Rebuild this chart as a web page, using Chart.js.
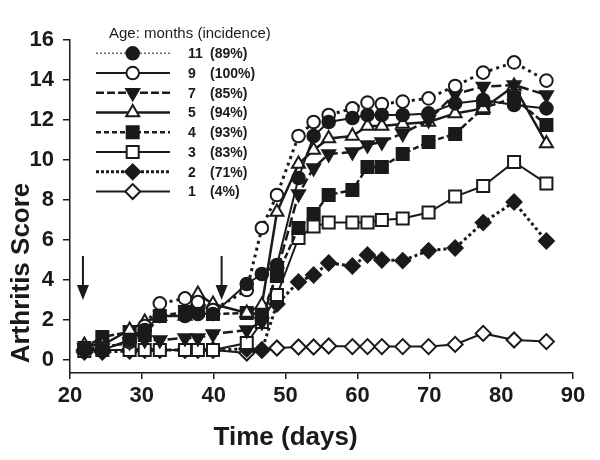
<!DOCTYPE html>
<html>
<head>
<meta charset="utf-8">
<title>Arthritis score by age</title>
<script src="https://cdn.jsdelivr.net/npm/chart.js@4.4.1/dist/chart.umd.min.js"></script>
<style>
  html, body { margin: 0; padding: 0; background: #fff; }
  #wrap { width: 600px; height: 460px; }
</style>
</head>
<body>
<div id="wrap"><canvas id="arthritisChart" width="600" height="460"></canvas></div>
<script>
// Days of scoring
const days = [22, 24.5, 28.3, 30.4, 32.5, 36, 37.8, 39.9, 44.6, 46.7, 48.8, 51.8, 53.9, 56, 59.3, 61.4, 63.4, 66.3, 69.9, 73.6, 77.5, 81.8, 86.3];

// Legend text
const ageMonths = ['11', '9', '7', '5', '4', '3', '2', '1'];
const incidence = ['(89%)', '(100%)', '(85%)', '(94%)', '(93%)', '(83%)', '(71%)', '(4%)'];

// Mean arthritis score per age group
const score11 = [0.5, 0.5, 1.0, 1.5, 2.2, 2.2, 2.3, 2.3, 3.8, 4.3, 4.75, 9.1, 11.2, 11.9, 12.1, 12.25, 12.25, 12.25, 12.33, 12.83, 13.0, 12.75, 12.58];
const score9  = [0.6, 0.6, 0.9, 1.7, 2.83, 3.08, 2.9, 2.5, 3.5, 6.6, 8.25, 11.2, 11.9, 12.25, 12.58, 12.87, 12.8, 12.92, 13.08, 13.7, 14.37, 14.88, 13.97];
const score7  = [0.6, 0.6, 0.9, 1.0, 1.0, 1.1, 1.1, 1.3, 1.5, 1.9, 4.4, 8.3, 9.6, 10.3, 10.4, 10.75, 10.9, 11.33, 12.0, 13.3, 13.67, 13.75, 13.25];
const score5  = [0.75, 0.75, 1.5, 1.9, 2.2, 2.2, 3.3, 2.8, 2.35, 2.75, 7.4, 9.8, 10.5, 11.08, 11.2, 11.7, 11.7, 11.8, 11.9, 12.33, 12.58, 13.7, 10.83];
const score4  = [0.6, 1.15, 1.4, 1.25, 2.2, 2.4, 2.5, 2.3, 2.35, 2.3, 4.2, 6.6, 7.3, 8.25, 8.5, 9.65, 9.65, 10.3, 10.9, 11.3, 12.6, 13.1, 11.75];
const score3  = [0.45, 0.5, 0.5, 0.5, 0.5, 0.5, 0.5, 0.5, 0.85, 1.9, 3.25, 6.1, 6.67, 6.87, 6.87, 6.87, 7.0, 7.08, 7.37, 8.17, 8.7, 9.9, 8.83];
const score2  = [0.4, 0.4, 0.45, 0.5, 0.5, 0.5, 0.5, 0.5, 0.55, 0.5, 2.8, 3.9, 4.25, 4.85, 4.7, 5.25, 5.0, 4.97, 5.47, 5.6, 6.87, 7.9, 5.95];
const score1  = [0.5, 0.5, 0.5, 0.5, 0.5, 0.5, 0.5, 0.5, 0.35, 0.5, 0.6, 0.65, 0.65, 0.7, 0.67, 0.67, 0.67, 0.67, 0.67, 0.78, 1.33, 1.0, 0.92];

// Axis ticks
const xTicks = [20, 30, 40, 50, 60, 70, 80, 90];
const yTicks = [0, 2, 4, 6, 8, 10, 12, 14, 16];

// Immunisation arrows (day, from score, to score)
const arrowDays = [21.8, 41.1];
const arrowFrom = 5.2;
const arrowTo = 3.0;

const INK = '#1a1a1a';
const textFont = "'Liberation Sans', Arial, sans-serif";

function toPoints(values) {
  return values.map((v, i) => ({ x: days[i], y: v }));
}

function series(values, opts) {
  return Object.assign({
    data: toPoints(values),
    borderColor: INK,
    pointBorderColor: INK,
    pointBorderWidth: 2,
    borderWidth: 2,
    tension: 0,
    fill: false
  }, opts);
}

const datasets = [
  series(score11, { label: '11', pointStyle: 'circle', pointRadius: 6.3, pointBackgroundColor: INK,
    legendDash: [2, 2], legendWidth: 1.5, legendColor: '#666' }),
  series(score9, { label: '9', pointStyle: 'circle', pointRadius: 6.3, pointBackgroundColor: '#fff',
    borderDash: [3, 4], borderWidth: 3, legendDash: [], legendWidth: 2 }),
  series(score7, { label: '7', pointStyle: 'triangle', pointRotation: 180, pointRadius: 7.5, pointBackgroundColor: INK,
    borderDash: [10, 4], borderWidth: 2.5, legendDash: [8, 3], legendWidth: 2.5 }),
  series(score5, { label: '5', pointStyle: 'triangle', pointRadius: 7.5, pointBackgroundColor: '#fff',
    borderWidth: 2.5, legendDash: [], legendWidth: 2.5 }),
  series(score4, { label: '4', pointStyle: 'rect', pointRadius: 8.5, pointBackgroundColor: INK,
    borderDash: [6, 3], borderWidth: 2.5, legendDash: [5, 3], legendWidth: 2.5 }),
  series(score3, { label: '3', pointStyle: 'rect', pointRadius: 8.5, pointBackgroundColor: '#fff',
    legendDash: [], legendWidth: 2 }),
  series(score2, { label: '2', pointStyle: 'rectRot', pointRadius: 7.5, pointBackgroundColor: INK,
    borderDash: [3, 3], borderWidth: 3, legendDash: [3, 2], legendWidth: 3 }),
  series(score1, { label: '1', pointStyle: 'rectRot', pointRadius: 7.5, pointBackgroundColor: '#fff',
    legendDash: [], legendWidth: 2 })
];

// Arrows marking the immunisation days
const arrowPlugin = {
  id: 'arrows',
  afterDatasetsDraw(chart) {
    const { ctx, scales: { x, y } } = chart;
    ctx.save();
    ctx.strokeStyle = INK;
    ctx.fillStyle = INK;
    ctx.lineWidth = 2;
    arrowDays.forEach(d => {
      const px = x.getPixelForValue(d);
      const top = y.getPixelForValue(arrowFrom);
      const tip = y.getPixelForValue(arrowTo);
      ctx.beginPath();
      ctx.moveTo(px, top);
      ctx.lineTo(px, tip - 12);
      ctx.stroke();
      ctx.beginPath();
      ctx.moveTo(px - 6, tip - 15);
      ctx.lineTo(px + 6, tip - 15);
      ctx.lineTo(px, tip);
      ctx.closePath();
      ctx.fill();
    });
    ctx.restore();
  }
};

// Legend box (line + marker + label), drawn like the original figure
const legendPlugin = {
  id: 'figureLegend',
  afterDraw(chart) {
    const ctx = chart.ctx;
    ctx.save();
    ctx.fillStyle = INK;
    ctx.textBaseline = 'middle';
    ctx.font = '15px ' + textFont;
    ctx.fillText('Age: months (incidence)', 109, 34);

    chart.data.datasets.forEach((ds, i) => {
      const yy = 53.3 + i * 19.75;
      ctx.save();
      ctx.strokeStyle = ds.legendColor || INK;
      ctx.lineWidth = ds.legendWidth;
      ctx.setLineDash(ds.legendDash);
      ctx.beginPath();
      ctx.moveTo(96, yy);
      ctx.lineTo(170, yy);
      ctx.stroke();
      ctx.restore();

      ctx.save();
      ctx.strokeStyle = INK;
      ctx.fillStyle = ds.pointBackgroundColor;
      ctx.lineWidth = 2;
      Chart.helpers.drawPoint(ctx, {
        pointStyle: ds.pointStyle,
        rotation: ds.pointRotation || 0,
        radius: ds.pointRadius,
        borderWidth: 2
      }, 132.7, yy);
      ctx.restore();

      ctx.font = 'bold 14px ' + textFont;
      ctx.fillText(ageMonths[i], 188, yy + 1);
      ctx.fillText(incidence[i], 210, yy + 1);
    });
    ctx.restore();
  }
};

// Axis titles
const axisTitlePlugin = {
  id: 'axisTitles',
  afterDraw(chart) {
    const ctx = chart.ctx;
    ctx.save();
    ctx.fillStyle = INK;
    ctx.font = 'bold 26px ' + textFont;
    ctx.textAlign = 'center';
    ctx.textBaseline = 'middle';
    ctx.fillText('Time (days)', chart.scales.x.getPixelForValue(50), 438);
    ctx.translate(22, 273);
    ctx.rotate(-Math.PI / 2);
    ctx.fillText('Arthritis Score', 0, 0);
    ctx.restore();
  }
};

new Chart(document.getElementById('arthritisChart'), {
  type: 'line',
  data: { datasets: datasets },
  options: {
    responsive: false,
    animation: false,
    devicePixelRatio: 1,
    layout: { padding: { top: 40, right: 27, left: 0, bottom: 0 } },
    plugins: {
      legend: { display: false },
      tooltip: { enabled: false }
    },
    scales: {
      x: {
        type: 'linear',
        min: 20,
        max: 90,
        afterBuildTicks: s => { s.ticks = xTicks.map(v => ({ value: v })); },
        afterFit: s => { s.height = 87; },
        ticks: {
          color: INK,
          padding: 4,
          maxRotation: 0,
          font: { family: textFont, size: 22, weight: 'bold' }
        },
        grid: { drawOnChartArea: false, tickLength: 6, color: INK, lineWidth: 1.5 },
        border: { color: INK, width: 1.5 }
      },
      y: {
        min: -0.65,
        max: 16,
        afterBuildTicks: s => { s.ticks = yTicks.map(v => ({ value: v })); },
        afterFit: s => { s.width = 70; },
        ticks: {
          color: INK,
          padding: 9,
          font: { family: textFont, size: 22, weight: 'bold' }
        },
        grid: { drawOnChartArea: false, tickLength: 7, color: INK, lineWidth: 1.5 },
        border: { color: INK, width: 1.5 }
      }
    }
  },
  plugins: [arrowPlugin, legendPlugin, axisTitlePlugin]
});
</script>
</body>
</html>
